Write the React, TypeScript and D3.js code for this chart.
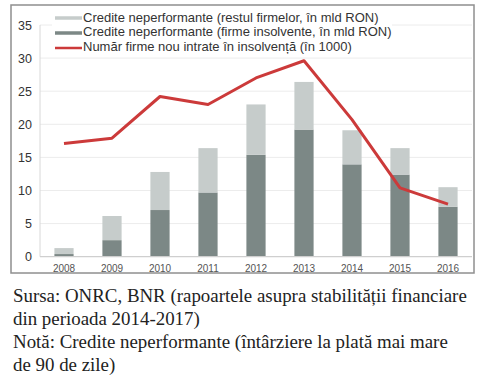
import React from "react";
import * as d3 from "d3";

const years = ["2008", "2009", "2010", "2011", "2012", "2013", "2014", "2015", "2016"];
const insolvent = [0.4, 2.5, 7.05, 9.7, 15.4, 19.2, 13.95, 12.4, 7.55];
const rest = [0.9, 3.65, 5.75, 6.7, 7.6, 7.2, 5.15, 4.0, 2.95];
const firms = [17.1, 17.9, 24.2, 23.0, 27.0, 29.6, 20.7, 10.4, 7.95];
const yTicks = [0, 5, 10, 15, 20, 25, 30, 35];
const legendLabels = [
  "Credite neperformante (restul firmelor, în mld RON)",
  "Credite neperformante (firme insolvente, în mld RON)",
  "Număr firme nou intrate în insolvență (în 1000)",
];
const captionLines = [
  "Sursa: ONRC, BNR (rapoartele asupra stabilității financiare",
  "din perioada 2014-2017)",
  "Notă: Credite neperformante (întârziere la plată mai mare",
  "de 90 de zile)",
];

const LIGHT = "#c6cccb";
const DARK = "#7c8886";
const RED = "#cc3a3a";

export default function App() {
  const W = 486, H = 380;
  const x = d3.scaleBand<string>().domain(years).range([40, 472]).paddingInner(0.6).paddingOuter(0.3);
  const y = d3.scaleLinear().domain([0, 35]).range([256.7, 25]);
  const line = d3.line<number>().x((_, i) => x(years[i])! + x.bandwidth() / 2).y((d) => y(d));
  const font = "Liberation Sans, Arial, sans-serif";
  return (
    <svg width={W} height={H} style={{ position: "absolute", left: 0, top: 0, background: "#fff" }}>
      <rect x={0} y={0} width={W} height={H} fill="#fff" />
      <rect x={11} y={5} width={463} height={268} fill="#fff" stroke="#8f8f8f" strokeWidth={1.5} />
      {yTicks.slice(1).map((t) => (
        <line key={t} x1={40} x2={472} y1={y(t)} y2={y(t)} stroke="#ececec" strokeWidth={1} />
      ))}
      {years.map((yr, i) => (
        <g key={yr}>
          <rect x={x(yr)} width={x.bandwidth()} y={y(insolvent[i])} height={y(0) - y(insolvent[i])} fill={DARK} />
          <rect x={x(yr)} width={x.bandwidth()} y={y(insolvent[i] + rest[i])} height={y(insolvent[i]) - y(insolvent[i] + rest[i])} fill={LIGHT} />
          <text x={x(yr)! + x.bandwidth() / 2} y={272} textAnchor="middle" fontFamily={font} fontSize={10} fill="#555">{yr}</text>
        </g>
      ))}
      <line x1={40} x2={40} y1={y(35)} y2={y(0)} stroke="#d8d8d8" strokeWidth={1} />
      <line x1={40} x2={472} y1={y(0)} y2={y(0)} stroke="#cfcfcf" strokeWidth={1.2} />
      {yTicks.map((t) => (
        <text key={t} x={32} y={y(t) + 4.5} textAnchor="end" fontFamily={font} fontSize={12.5} fill="#333">{t}</text>
      ))}
      <path d={line(firms)!} fill="none" stroke={RED} strokeWidth={3} strokeLinejoin="round" />
      <rect x={52} y={8} width={340} height={46} fill="#fff" />
      {legendLabels.map((l, i) => (
        <g key={l}>
          <line x1={55} x2={82} y1={18 + i * 15} y2={18 + i * 15} stroke={[LIGHT, DARK, RED][i]} strokeWidth={i === 2 ? 2.5 : 3.5} />
          <text x={83} y={21.5 + i * 14.7} fontFamily={font} fontSize={13} fill="#333">{l}</text>
        </g>
      ))}
      {captionLines.map((c, i) => (
        <text key={c} x={13} y={302 + i * 23} fontFamily="Liberation Serif, Times New Roman, serif" fontSize={18.9} fill="#222">{c}</text>
      ))}
    </svg>
  );
}
